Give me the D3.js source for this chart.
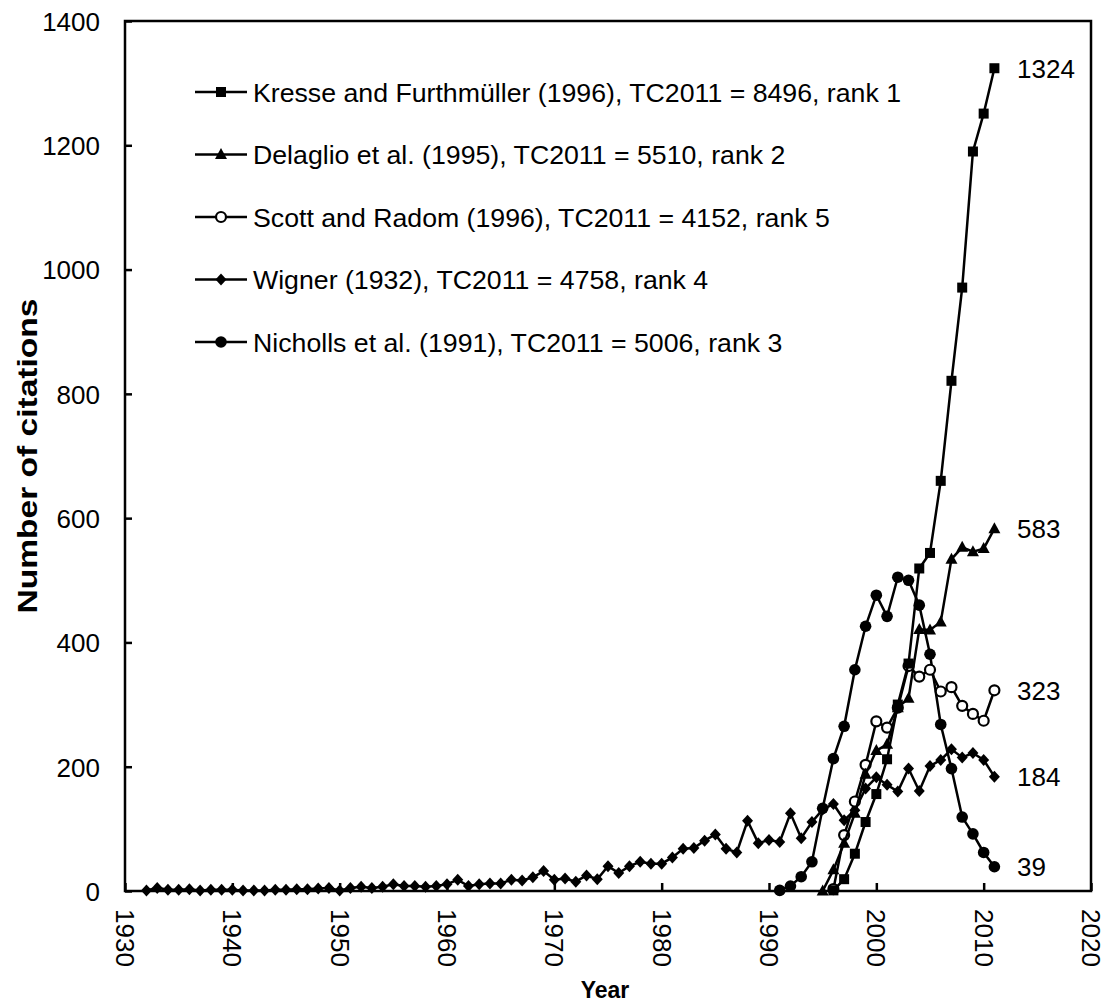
<!DOCTYPE html>
<html>
<head>
<meta charset="utf-8">
<script src="https://cdn.jsdelivr.net/npm/d3@7"></script>
<style>
  body { margin: 0; background: #fff; }
  svg text { font-family: "Liberation Sans", Arial, sans-serif; fill: #000; }
</style>
</head>
<body>
<svg id="chart" width="1106" height="1003"></svg>
<script>
// data
const kresseYears = d3.range(1996, 2012);
const kresseVals = [1, 19, 60, 111, 156, 212, 300, 366, 519, 544, 660, 821, 971, 1190, 1251, 1324];

const delaglioYears = d3.range(1995, 2012);
const delaglioVals = [0, 34, 77, 125, 188, 226, 236, 295, 310, 421, 420, 433, 534, 553, 546, 551, 583];

const scottYears = d3.range(1996, 2012);
const scottVals = [3, 90, 144, 203, 273, 263, 295, 362, 345, 356, 321, 328, 298, 285, 274, 323];

const wignerYears = d3.range(1932, 2012);
const wignerVals = [1, 5, 2, 2, 3, 1, 2, 2, 2, 1, 1, 1, 2, 2, 3, 3, 4, 5, 1, 5,
                    7, 5, 7, 11, 8, 8, 7, 8, 11, 18, 8, 11, 12, 12, 18, 17, 22, 32, 18, 20,
                    15, 25, 19, 40, 29, 40, 47, 44, 44, 54, 68, 69, 81, 91, 68, 62, 113, 77, 82, 79,
                    125, 85, 111, 131, 140, 114, 130, 165, 183, 171, 160, 197, 161, 201, 211, 228, 215, 222, 211, 184];

const nichollsYears = d3.range(1991, 2012);
const nichollsVals = [1, 8, 23, 47, 133, 213, 265, 356, 426, 476, 442, 505, 500, 460, 381, 268, 197, 119, 92, 62, 39];

const legendLabels = [
  "Kresse and Furthmüller (1996), TC2011 = 8496, rank 1",
  "Delaglio et al. (1995), TC2011 = 5510, rank 2",
  "Scott and Radom (1996), TC2011 = 4152, rank 5",
  "Wigner (1932), TC2011 = 4758, rank 4",
  "Nicholls et al. (1991), TC2011 = 5006, rank 3"
];
const markerKinds = ["square", "triangle", "open", "diamond", "circle"];
const xTicks = d3.range(1930, 2021, 10);
const yTicks = d3.range(0, 1401, 200);

const series = [
  {years: kresseYears, vals: kresseVals},
  {years: delaglioYears, vals: delaglioVals},
  {years: scottYears, vals: scottVals},
  {years: wignerYears, vals: wignerVals},
  {years: nichollsYears, vals: nichollsVals}
].map((s, i) => ({
  label: legendLabels[i],
  kind: markerKinds[i],
  pts: s.years.map((yr, j) => ({x: yr, y: s.vals[j]}))
}));

const plotL = 125, plotR = 1091, plotT = 21, plotB = 891;
const svg = d3.select("#chart");
const x = d3.scaleLinear().domain([1930, 2020]).range([plotL, plotR]);
const y = d3.scaleLinear().domain([0, 1400]).range([plotB, plotT]);

// frame
svg.append("rect")
  .attr("x", plotL).attr("y", plotT)
  .attr("width", plotR - plotL).attr("height", plotB - plotT)
  .attr("fill", "none").attr("stroke", "#000").attr("stroke-width", 2.5);

// axes with inward ticks
const yAxis = svg.append("g").attr("transform", `translate(${plotL},0)`)
  .call(d3.axisLeft(y).tickValues(yTicks).tickFormat(d3.format("d"))
    .tickSizeInner(-7).tickSizeOuter(0).tickPadding(25));
const xAxis = svg.append("g").attr("transform", `translate(0,${plotB})`)
  .call(d3.axisBottom(x).tickValues(xTicks).tickFormat(d3.format("d")).tickSizeInner(-8).tickSizeOuter(0));
[yAxis, xAxis].forEach(g => {
  g.select(".domain").remove();
  g.selectAll(".tick line").attr("stroke", "#000").attr("stroke-width", 2.5);
  g.selectAll("text").style("font-size", "26px").attr("font-family", null);
});
yAxis.selectAll("text").attr("dy", "0.36em");
xAxis.selectAll("text")
  .attr("transform", "translate(0,18) rotate(90)")
  .attr("x", 0).attr("y", 0).attr("dy", "0.36em")
  .attr("text-anchor", "start");

// axis titles
svg.append("text")
  .attr("transform", `translate(27,${(plotT + plotB) / 2}) rotate(-90)`)
  .attr("text-anchor", "middle").attr("dy", "0.36em")
  .attr("textLength", 315).attr("lengthAdjust", "spacingAndGlyphs")
  .style("font-family", "'Liberation Sans Narrow', 'Liberation Sans', Arial, sans-serif")
  .style("font-size", "27px").style("font-weight", "bold")
  .text("Number of citations");
svg.append("text")
  .attr("x", (plotL + plotR) / 2 - 3).attr("y", 998)
  .attr("text-anchor", "middle")
  .style("font-size", "23px").style("font-weight", "bold")
  .text("Year");

function marker(sel, kind) {
  if (kind === "square") {
    sel.append("rect").attr("x", -5).attr("y", -5).attr("width", 10).attr("height", 10).attr("fill", "#000");
  } else if (kind === "triangle") {
    sel.append("path").attr("d", "M0,-6.5L6,4.5L-6,4.5Z").attr("fill", "#000");
  } else if (kind === "diamond") {
    sel.append("path").attr("d", "M0,-6L5.5,0L0,6L-5.5,0Z").attr("fill", "#000");
  } else if (kind === "circle") {
    sel.append("circle").attr("r", 5.8).attr("fill", "#000");
  } else {
    sel.append("circle").attr("r", 5).attr("fill", "#fff").attr("stroke", "#000").attr("stroke-width", 2.2);
  }
}

const line = d3.line().x(d => x(d.x)).y(d => y(d.y));

series.slice().reverse().forEach(s => {
  const g = svg.append("g");
  g.append("path").datum(s.pts).attr("d", line)
    .attr("fill", "none").attr("stroke", "#000").attr("stroke-width", 2.5);
  g.selectAll("g.pt").data(s.pts).join("g").attr("class", "pt")
    .attr("transform", d => `translate(${x(d.x)},${y(d.y)})`)
    .each(function() { marker(d3.select(this), s.kind); });
  const last = s.pts[s.pts.length - 1];
  svg.append("text")
    .attr("x", 1017).attr("y", y(last.y)).attr("dy", "0.36em")
    .style("font-size", "26px")
    .text(last.y);
});

// legend
const legend = svg.append("g");
series.forEach((s, i) => {
  const ly = 92 + i * 62.5;
  const row = legend.append("g").attr("transform", `translate(0,${ly})`);
  row.append("line").attr("x1", 195).attr("x2", 247).attr("y1", 0).attr("y2", 0)
    .attr("stroke", "#000").attr("stroke-width", 2.5);
  marker(row.append("g").attr("transform", "translate(221,0)"), s.kind);
  row.append("text").attr("x", 253).attr("dy", "0.36em")
    .style("font-size", "26.7px").text(s.label);
});
</script>
</body>
</html>
